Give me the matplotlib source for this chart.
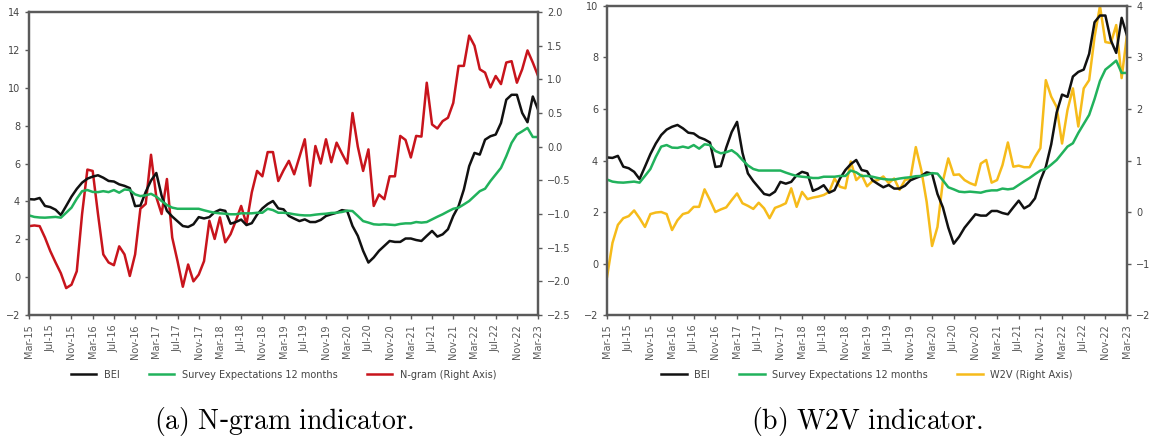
import numpy as np
import pandas as pd
import matplotlib
matplotlib.use("Agg")
import matplotlib.pyplot as plt

# monthly data, Mar-2015 .. Mar-2023
months = pd.date_range("2015-03-01", "2023-03-01", freq="MS")
month_labels = [d.strftime("%b-%y") for d in months]

bei = [4.12, 4.10, 4.18, 3.76, 3.70, 3.56, 3.28, 3.76, 4.25, 4.66,
       4.99, 5.20, 5.31, 5.38, 5.25, 5.08, 5.05, 4.90, 4.82, 4.70,
       3.75, 3.78, 4.50, 5.10, 5.50, 4.30, 3.50, 3.20, 2.95, 2.70,
       2.65, 2.79, 3.17, 3.10, 3.17, 3.43, 3.56, 3.50, 2.82, 2.91,
       3.04, 2.75, 2.85, 3.30, 3.63, 3.86, 4.02, 3.63, 3.58, 3.23,
       3.09, 2.96, 3.05, 2.91, 2.91, 3.02, 3.23, 3.32, 3.40, 3.54,
       3.49, 2.70, 2.18, 1.39, 0.77, 1.04, 1.39, 1.65, 1.91, 1.86,
       1.86, 2.04, 2.04, 1.96, 1.91, 2.18, 2.44, 2.14, 2.26, 2.53,
       3.23, 3.75, 4.63, 5.86, 6.56, 6.47, 7.26, 7.44, 7.53, 8.14,
       9.37, 9.63, 9.63, 8.67, 8.18, 9.54, 8.84]

survey = [3.26, 3.18, 3.15, 3.14, 3.16, 3.18, 3.14, 3.40, 3.67, 4.14,
          4.54, 4.60, 4.50, 4.49, 4.54, 4.49, 4.60, 4.46, 4.63, 4.60,
          4.37, 4.28, 4.32, 4.40, 4.25, 4.02, 3.81, 3.67, 3.61, 3.61,
          3.61, 3.61, 3.61, 3.53, 3.46, 3.40, 3.37, 3.35, 3.32, 3.32,
          3.37, 3.37, 3.37, 3.40, 3.40, 3.61, 3.54, 3.40, 3.40, 3.37,
          3.32, 3.28, 3.26, 3.26, 3.30, 3.33, 3.35, 3.39, 3.40, 3.44,
          3.51, 3.49, 3.23, 2.96, 2.88, 2.79, 2.77, 2.79, 2.77, 2.75,
          2.81, 2.84, 2.84, 2.91, 2.88, 2.91, 3.05, 3.19, 3.32, 3.47,
          3.61, 3.67, 3.84, 4.02, 4.28, 4.54, 4.67, 5.07, 5.42, 5.77,
          6.39, 7.09, 7.53, 7.70, 7.88, 7.40, 7.40]

ngram = [-1.18, -1.17, -1.18, -1.35, -1.55, -1.72, -1.88, -2.10, -2.05, -1.85,
         -1.00, -0.34, -0.36, -1.00, -1.60, -1.72, -1.76, -1.48, -1.60, -1.92,
         -1.60, -0.92, -0.85, -0.12, -0.75, -1.00, -0.48, -1.35, -1.70, -2.08,
         -1.75, -2.00, -1.90, -1.70, -1.10, -1.37, -1.05, -1.42, -1.30, -1.10,
         -0.88, -1.15, -0.68, -0.36, -0.44, -0.08, -0.08, -0.51, -0.35, -0.21,
         -0.41, -0.15, 0.11, -0.58, 0.01, -0.25, 0.11, -0.23, 0.06, -0.10,
         -0.25, 0.50, 0.00, -0.36, -0.04, -0.88, -0.71, -0.78, -0.44, -0.44,
         0.16, 0.10, -0.16, 0.16, 0.15, 0.95, 0.33, 0.27, 0.38, 0.43,
         0.65, 1.20, 1.20, 1.65, 1.50, 1.15, 1.10, 0.88, 1.05, 0.93,
         1.25, 1.27, 0.95, 1.15, 1.43, 1.25, 1.05]

w2v = [-1.26, -0.60, -0.25, -0.12, -0.08, 0.03, -0.12, -0.29, -0.04, -0.01,
       0.00, -0.04, -0.35, -0.16, -0.04, -0.01, 0.10, 0.10, 0.44, 0.23,
       0.00, 0.05, 0.09, 0.23, 0.36, 0.17, 0.12, 0.06, 0.18, 0.07,
       -0.12, 0.08, 0.12, 0.17, 0.46, 0.10, 0.39, 0.25, 0.28, 0.30,
       0.33, 0.39, 0.65, 0.49, 0.46, 0.98, 0.62, 0.72, 0.50, 0.60,
       0.62, 0.69, 0.56, 0.65, 0.43, 0.62, 0.65, 1.26, 0.82, 0.20,
       -0.66, -0.29, 0.60, 1.04, 0.72, 0.73, 0.62, 0.56, 0.52, 0.94,
       1.01, 0.57, 0.62, 0.91, 1.35, 0.88, 0.90, 0.87, 0.87, 1.07,
       1.24, 2.56, 2.24, 2.04, 1.33, 1.98, 2.40, 1.66, 2.40, 2.56,
       3.40, 4.00, 3.30, 3.28, 3.63, 2.60, 3.45]

BLACK = "#111111"
GREEN = "#21b25c"
RED = "#c8141c"
GOLD = "#f6bb1a"
GREY = "#5a5a5a"

x = np.arange(len(months))

fig = plt.figure(figsize=(11.53, 4.41), dpi=100)


def style(ax):
    for s in ax.spines.values():
        s.set_color(GREY)
        s.set_linewidth(1.6)
    ax.tick_params(colors=GREY, labelsize=7, width=1, length=3)
    for lab in ax.get_yticklabels():
        lab.set_color("#444444")


def panel(rect, ylim_l, yt_l, ylim_r, yt_r, rfmt, other, other_label, other_color, caption):
    ax = fig.add_axes(rect)
    l1, = ax.plot(x, bei, color=BLACK, lw=1.8, label="BEI")
    l2, = ax.plot(x, survey, color=GREEN, lw=1.8, label="Survey Expectations 12 months")
    ax.set_xlim(0, len(x) - 1)
    ax.set_ylim(*ylim_l)
    ax.set_yticks(yt_l)
    ax.set_yticklabels([f"{v:g}".replace("-", "\u2212") for v in yt_l])
    ax.set_xticks(x[::4])
    ax.set_xticklabels(month_labels[::4], rotation=90, color="#444444")
    ax2 = ax.twinx()
    l3, = ax2.plot(x, other, color=other_color, lw=1.8, label=other_label)
    ax2.set_ylim(*ylim_r)
    ax2.set_yticks(yt_r)
    ax2.set_yticklabels([rfmt.format(v).replace("-", "\u2212") for v in yt_r])
    style(ax)
    style(ax2)
    ax.set_zorder(ax2.get_zorder() + 1)
    ax.patch.set_visible(False)
    cx = rect[0] + rect[2] / 2
    fig.legend(handles=[l1, l2, l3], loc="center", bbox_to_anchor=(cx, 0.15),
               ncol=3, frameon=False, fontsize=7, handlelength=2.6,
               columnspacing=3.0, labelcolor="#444444")
    fig.text(cx, 0.045, caption, ha="center", va="center", fontsize=20)
    return ax


plt.rcParams["mathtext.fontset"] = "cm"

panel([0.0252, 0.2857, 0.4415, 0.687], (-2, 14), np.arange(-2, 15, 2),
      (-2.5, 2.0), np.arange(-2.5, 2.01, 0.5), "{:.1f}",
      ngram, "N-gram (Right Axis)", RED,
      r"$\mathrm{(a)\ N}$-$\mathrm{gram\ indicator.}$")

panel([0.5265, 0.2857, 0.451, 0.7007], (-2, 10), np.arange(-2, 11, 2),
      (-2, 4), np.arange(-2, 5, 1), "{:g}",
      w2v, "W2V (Right Axis)", GOLD,
      r"$\mathrm{(b)\ W2V\ indicator.}$")

fig.savefig("out.png", dpi=100)
